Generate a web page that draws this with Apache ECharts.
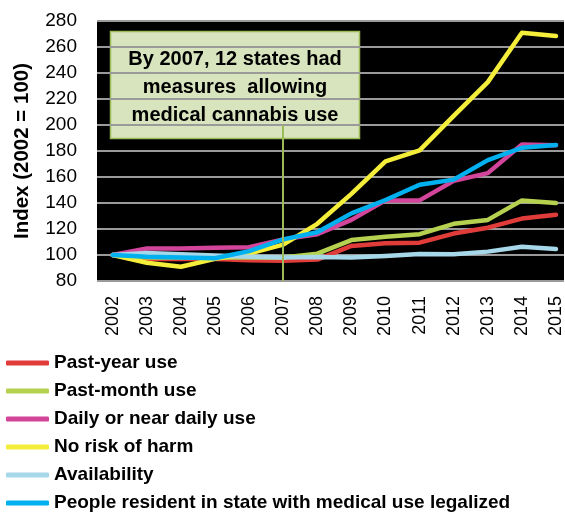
<!DOCTYPE html>
<html>
<head>
<meta charset="utf-8">
<script src="https://cdn.jsdelivr.net/npm/echarts@6/dist/echarts.min.js"></script>
<style>
html,body{margin:0;padding:0;background:#fff;}
#chart{width:565px;height:512px;}
</style>
</head>
<body>
<div id="chart"></div>
<script>
var years = ['2002','2003','2004','2005','2006','2007','2008','2009','2010','2011','2012','2013','2014','2015'];
var pastYear     = [100, 97, 97, 97, 96, 95.5, 96.5, 107, 109, 109.5, 116.5, 121, 128, 131];
var pastMonth    = [100, 98, 98, 98, 98, 98, 101, 111.5, 114, 116, 124, 127, 142, 140];
var dailyUse     = [100, 105, 105, 105.5, 106, 112, 116, 127, 142, 142, 157, 163, 185, 184.5];
var noRisk       = [100, 94, 91, 97, 101, 108, 124, 147, 172, 180.5, 207, 233, 271, 268.5];
var availability = [100, 101.5, 100.5, 99.7, 98.7, 98, 98.5, 98, 99.2, 100.8, 100.5, 102.6, 106.4, 104.6];
var residents    = [100, 98.7, 98, 97.5, 103, 112, 117.5, 132, 142.3, 154, 158, 173, 182.5, 184.6];
var seriesNames = ['Past-year use','Past-month use','Daily or near daily use','No risk of harm','Availability','People resident in state with medical use legalized'];
var seriesData = [pastYear, pastMonth, dailyUse, noRisk, availability, residents];
var seriesColors = ['#e03c3a','#b5d14f','#d3459a','#f4ee3a','#a6d8e9','#00b0ef'];
var yMin = 80, yMax = 280, yStep = 20;
var annotationLines = ['By 2007, 12 states had', 'measures  allowing', 'medical cannabis use'];
var markYear = '2007';

var FONT = '"Liberation Sans", Arial, sans-serif';
var chart = echarts.init(document.getElementById('chart'), null, {renderer:'canvas'});

var series = seriesNames.map(function(n, i){
  var s = {
    name: n, type: 'line', xAxisIndex: 1, yAxisIndex: 1,
    data: seriesData[i], symbol: 'none', smooth: false,
    lineStyle: {color: seriesColors[i], width: 4.5, cap:'round', join:'round'},
    itemStyle: {color: seriesColors[i]},
    silent: true, animation: false
  };
  if (i === seriesNames.length - 1) {
    s.markLine = {
      silent: true, symbol: ['none','none'], label:{show:false},
      lineStyle: {color:'#9bbb59', width: 2, type:'solid'},
      data: [[{coord:[markYear, yMin]}, {coord:[markYear, 200]}]],
      animation: false
    };
  }
  return s;
});

var option = {
  backgroundColor: '#ffffff',
  animation: false,
  grid: [
    {left: 97, right: 1, top: 21, bottom: 231, show: true, backgroundColor: '#000000', borderWidth: 0},
    {left: 112.7, right: 7.3, top: 21, bottom: 231}
  ],
  xAxis: [
    {type:'category', gridIndex:0, data: years, show:false},
    {type:'category', gridIndex:1, data: years, boundaryGap:false,
     axisLine:{show:false}, axisTick:{show:false}, splitLine:{show:false},
     axisLabel:{rotate:90, margin:15, fontSize:18, color:'#000', fontFamily:FONT, interval:0}}
  ],
  yAxis: [
    {type:'value', gridIndex:0, min:yMin, max:yMax, interval:yStep,
     name:'Index (2002 = 100)', nameLocation:'middle', nameGap:64, nameRotate:90,
     nameTextStyle:{fontSize:20.5, fontWeight:'bold', color:'#000', fontFamily:FONT},
     axisLine:{show:false}, axisTick:{show:false},
     axisLabel:{fontSize:19, color:'#000', margin:20, fontFamily:FONT},
     splitLine:{show:true, lineStyle:{color:'#9a9a9a', width:2}}},
    {type:'value', gridIndex:1, min:yMin, max:yMax, interval:yStep, show:false, splitLine:{show:false}}
  ],
  legend: {
    orient:'vertical', left:6, top:352, height:170, padding:0, itemWidth:43, itemHeight:5, itemGap:6,
    icon:'roundRect', selectedMode:false,
    textStyle:{fontSize:19, fontWeight:'bold', color:'#000', fontFamily:FONT, lineHeight:22},
    data: seriesNames
  },
  graphic: [
    {type:'group', z:100, children:[
      {type:'rect', shape:{x:110.5, y:31.5, width:249, height:107},
       style:{fill:'#d7e4bd', stroke:'#9bbb59', lineWidth:1.5}},
      {type:'text', x:235, y:45, style:{text: annotationLines.join('\n'), fill:'#000',
        font:'bold 20px ' + FONT, textAlign:'center', textVerticalAlign:'top', lineHeight:28}}
    ]}
  ],
  series: series
};
chart.setOption(option);
</script>
</body>
</html>
